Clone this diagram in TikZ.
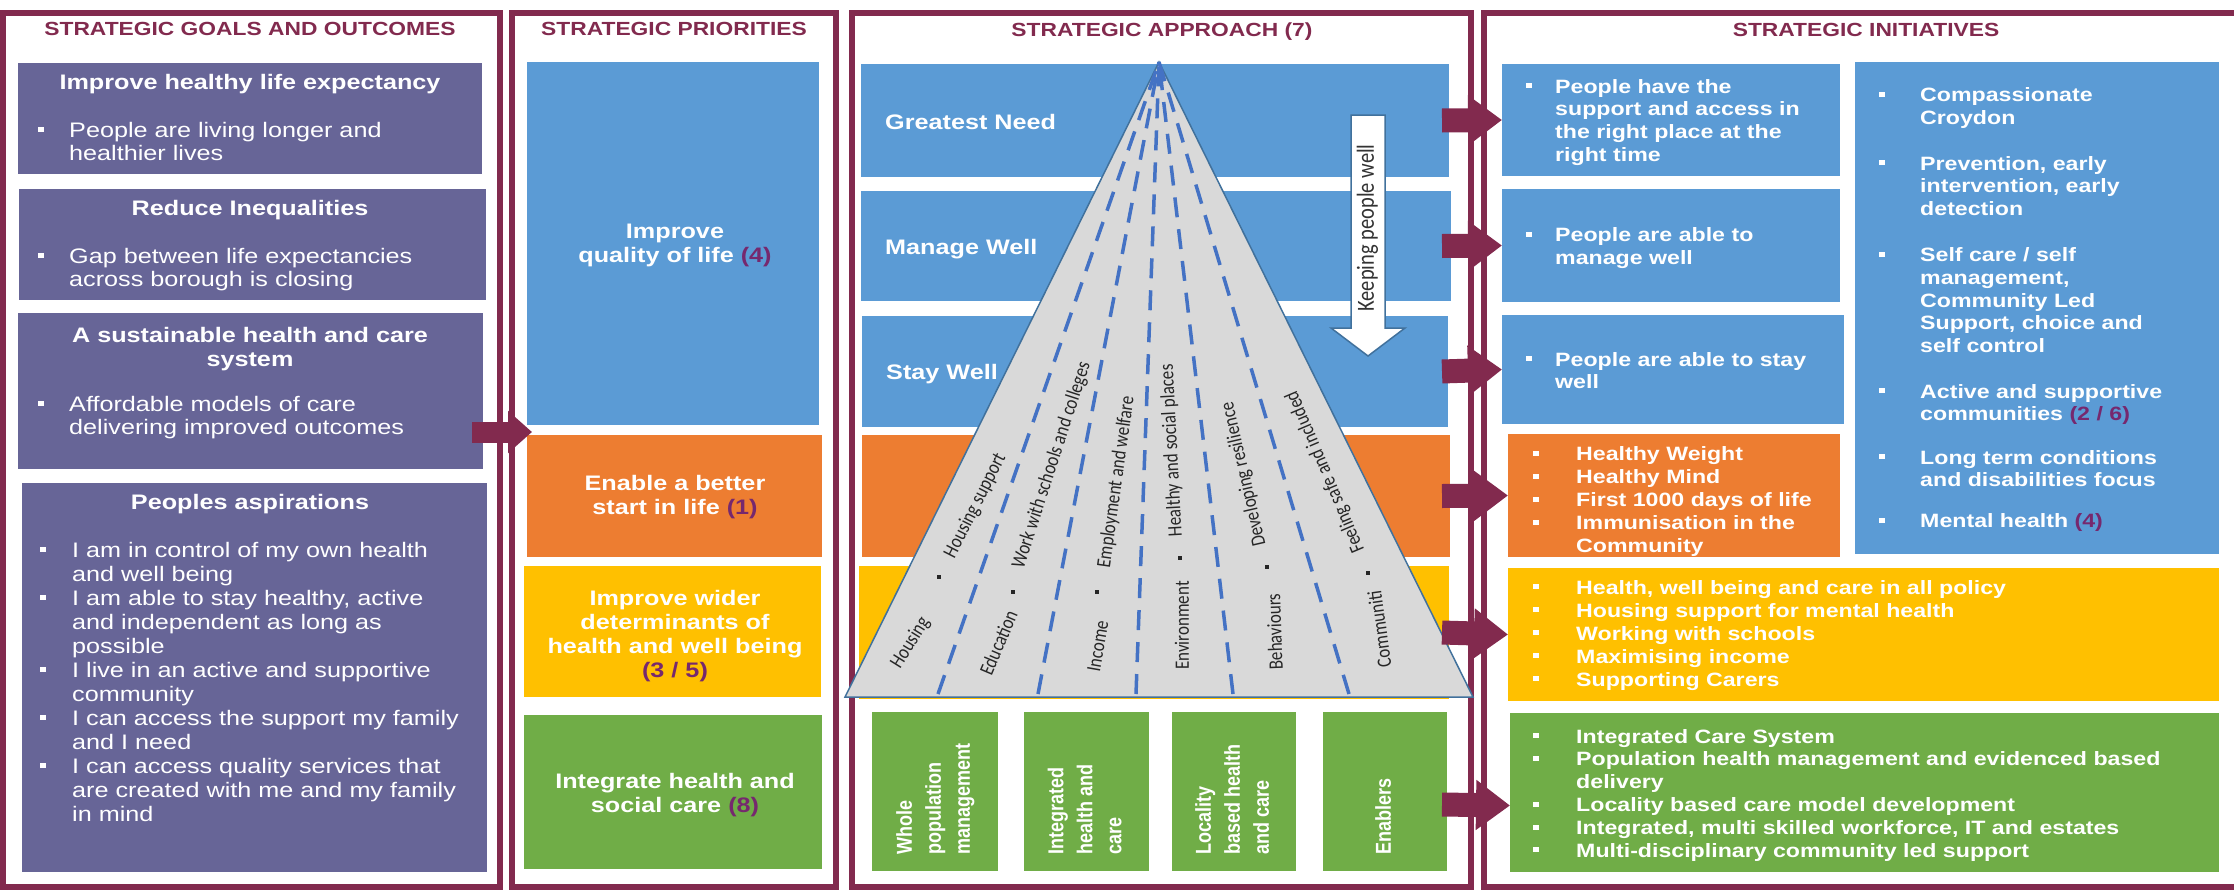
\documentclass[tikz,border=0pt]{standalone}
\usepackage{graphicx}
\usepackage{fontspec}
\setmainfont{Liberation Sans}[FakeStretch=1.2]
\newfontfamily\plainfont{Liberation Sans}
\newfontfamily\calfont{Carlito}
\usetikzlibrary{arrows.meta,positioning}

\definecolor{framec}{RGB}{130,42,78}
\definecolor{goalc}{RGB}{103,101,151}
\definecolor{bluec}{RGB}{91,155,213}
\definecolor{orangec}{RGB}{237,125,49}
\definecolor{yellowc}{RGB}{255,192,0}
\definecolor{greenc}{RGB}{112,173,71}
\definecolor{numc}{RGB}{118,40,110}
\definecolor{pyrfill}{RGB}{217,217,217}
\definecolor{pyrline}{RGB}{65,113,156}
\definecolor{dashc}{RGB}{68,114,196}

\newlength\bulw
\newcommand\sqb{\raisebox{0.25em}{\rule{0.28em}{0.26em}}}
\newcommand\bl{\makebox[\bulw][l]{\sqb}}
\newcommand\cl{\hspace*{\bulw}}
\newcommand\num[1]{{\color{numc}#1}}
% taller glyphs for the turned labels
\newcommand\tall[1]{\scalebox{1}[1.2]{\begin{tabular}{@{}l@{}}#1\end{tabular}}}

\begin{document}
\begin{tikzpicture}[x=1pt,y=-1pt,
    frm/.style={draw=framec, line width=6pt},
    panel/.style 2 args={anchor=north west, inner sep=0pt, outer sep=0pt, minimum width=#1pt, minimum height=#2pt},
    title/.style={anchor=base, text=framec, font=\bfseries\fontsize{19}{22}\selectfont},
    head/.style={anchor=base, text=white, font=\bfseries\fontsize{21}{24}\selectfont},
    goaltxt/.style={anchor=north west, inner sep=0pt, align=left, text=white, font=\fontsize{21}{23.5}\selectfont\setlength\bulw{31pt}},
    prio/.style={anchor=north, inner sep=0pt, align=center, text=white, font=\bfseries\fontsize{21}{24}\selectfont},
    band/.style={anchor=base west, inner sep=0pt, text=white, font=\bfseries\fontsize{21}{24}\selectfont},
    rot/.style={rotate=90, anchor=west, inner sep=0pt, text=white, font=\plainfont\bfseries\fontsize{18}{24.2}\selectfont},
    pyr/.style={anchor=west, inner sep=0pt, text=black!85, font=\calfont\fontsize{17}{20}\selectfont},
    dot/.style={fill=black!85, minimum size=4.5pt, inner sep=0pt},
    dashln/.style={draw=dashc, line width=3.5pt, dash pattern=on 20pt off 12pt},
    init/.style={anchor=north west, inner sep=0pt, align=left, text=white, font=\bfseries\fontsize{19.3}{22.7}\selectfont\setlength\bulw{29pt}},
    initD/.style={init, font=\bfseries\fontsize{19.3}{22.7}\selectfont\setlength\bulw{41pt}},
    initL/.style={init, font=\bfseries\fontsize{19.3}{23}\selectfont\setlength\bulw{43pt}},
    bigarrow/.style={draw=framec, line width=24pt, -{Triangle[length=34pt,width=48pt]}},
    smallarrow/.style={draw=framec, line width=21pt, -{Triangle[length=24pt,width=41pt]}}]

\useasboundingbox (0,0) rectangle (2234,891);

% column frames
\draw[frm] (3,13) rectangle (500,887);
\draw[frm] (512,13) rectangle (836,887);
\draw[frm] (852,13) rectangle (1471,887);
\draw[frm] (2240,13) -- (1483.5,13) -- (1483.5,887) -- (2240,887);

\node[title] (t1) at (250,35.5) {STRATEGIC GOALS AND OUTCOMES};
\node[title] (t2) at (674,36) {STRATEGIC PRIORITIES};
\node[title] (t3) at (1162,36.5) {STRATEGIC APPROACH (7)};
\node[title] (t4) at (1866,36.5) {STRATEGIC INITIATIVES};

% goals and outcomes
\node[panel={464}{111}, fill=goalc] (g1) at (18,63) {};
\node[panel={467}{111}, fill=goalc] (g2) at (19,189) {};
\node[panel={465}{156}, fill=goalc] (g3) at (18,313) {};
\node[panel={465}{389}, fill=goalc] (g4) at (22,483) {};

\node[head] (h1) at (250,89) {Improve healthy life expectancy};
\node[goaltxt] (s1) at (38,122) {\bl People are living longer and\\\cl healthier lives};
\node[head] (h2) at (250,215) {Reduce Inequalities};
\node[goaltxt] (s2) at (38,248) {\bl Gap between life expectancies\\\cl across borough is closing};
\node[head, anchor=north, align=center] (h3) at (250,324) {A sustainable health and care\\system};
\node[goaltxt] (s3) at (38,396) {\bl Affordable models of care\\\cl delivering improved outcomes};
\node[head] (h4) at (250,509) {Peoples aspirations};
\node[goaltxt, font=\fontsize{21}{24}\selectfont\setlength\bulw{32pt}] (s4) at (40,542)
  {\bl I am in control of my own health\\\cl and well being\\
   \bl I am able to stay healthy, active\\\cl and independent as long as\\\cl possible\\
   \bl I live in an active and supportive\\\cl community\\
   \bl I can access the support my family\\\cl and I need\\
   \bl I can access quality services that\\\cl are created with me and my family\\\cl in mind};

% priorities
\node[panel={292}{363}, fill=bluec] (p1) at (527,62) {};
\node[panel={295}{122}, fill=orangec] (p2) at (527,435) {};
\node[panel={297}{131}, fill=yellowc] (p3) at (524,566) {};
\node[panel={298}{154}, fill=greenc] (p4) at (524,715) {};

\node[prio] (q1) at (675,224) {Improve\\quality of life \num{(4)}};
\node[prio] (q2) at (675,475) {Enable a better\\start in life \num{(1)}};
\node[prio] (q3) at (675,590) {Improve wider\\determinants of\\health and well being\\\num{(3 / 5)}};
\node[prio] (q4) at (675,773) {Integrate health and\\social care \num{(8)}};

% approach
\node[panel={588}{113}, fill=bluec] (a1) at (861,64) {};
\node[panel={590}{110}, fill=bluec] (a2) at (861,191) {};
\node[panel={586}{111}, fill=bluec] (a3) at (862,316) {};
\node[panel={588}{122}, fill=orangec] (a4) at (862,435) {};
\node[panel={590}{133}, fill=yellowc] (a5) at (859,566) {};
\node[panel={126}{159}, fill=greenc] (b1) at (872,712) {};
\node[panel={125}{159}, fill=greenc] (b2) at (1024,712) {};
\node[panel={124}{159}, fill=greenc] (b3) at (1172,712) {};
\node[panel={124}{159}, fill=greenc] (b4) at (1323,712) {};

\node[band] (n1) at (885,129) {Greatest Need};
\node[band] (n2) at (885,254) {Manage Well};
\node[band] (n3) at (886,379) {Stay Well};

\node[rot] (w1) at ([yshift=16pt]b1.south) {\tall{Whole\\population\\management}};
\node[rot] (w2) at ([yshift=16pt]b2.south) {\tall{Integrated\\health and\\care}};
\node[rot] (w3) at ([yshift=16pt]b3.south) {\tall{Locality\\based health\\and care}};
\node[rot] (w4) at ([yshift=16pt]b4.south) {\tall{Enablers}};

\coordinate (apex) at (1159,62);
\coordinate (pl) at (845,697);
\coordinate (pr) at (1473,697);
\filldraw[fill=pyrfill, draw=pyrline, line width=1.5pt] (apex) -- (pl) -- (pr) -- cycle;
\foreach \bx in {938,1038,1136,1233,1349}
  \draw[dashln] (\bx,694) -- (apex);

\node[pyr, rotate=58] (c1) at (896,667) {\tall{Housing}};
\node[dot] (d1) at (939,577) {};
\node[pyr, rotate=63] (e1) at (950,557) {\tall{Housing support}};
\node[pyr, rotate=67] (c2) at (987,675) {\tall{Education}};
\node[dot] (d2) at (1013,592) {};
\node[pyr, rotate=72] (e2) at (1019,568) {\tall{Work with schools and colleges}};
\node[pyr, rotate=80] (c3) at (1095,672) {\tall{Income}};
\node[dot] (d3) at (1097,592) {};
\node[pyr, rotate=82] (e3) at (1105,568) {\tall{Employment and welfare}};
\node[pyr, rotate=90] (c4) at (1184,670) {\tall{Environment}};
\node[dot] (d4) at (1180,558) {};
\node[pyr, rotate=93] (e4) at (1177,537) {\tall{Healthy and social places}};
\node[pyr, rotate=92] (c5) at (1278,670) {\tall{Behaviours}};
\node[dot] (d5) at (1267,567) {};
\node[pyr, rotate=103] (e5) at (1261,546) {\tall{Developing resilience}};
\node[pyr, rotate=98] (c6) at (1387,667) {\tall{Communiti}};
\node[dot] (d6) at (1368,573) {};
\node[pyr, rotate=113] (e6) at (1360,552) {\tall{Feeling safe and included}};

\filldraw[fill=white, draw=pyrline, line width=1.5pt] (1351,115) -- (1385,115) -- (1385,328) -- (1405,328)
  -- (1368,356) -- (1331,328) -- (1351,328) -- cycle;
\node[rotate=90, inner sep=0pt, text=black!80, font=\calfont\fontsize{20.5}{24}\selectfont] (kpw) at (1368,228) {\tall{Keeping people well}};

% initiatives
\node[panel={338}{112}, fill=bluec] (iA) at (1502,64) {};
\node[panel={338}{113}, fill=bluec] (iB) at (1502,189) {};
\node[panel={342}{109}, fill=bluec] (iC) at (1502,315) {};
\node[panel={364}{492}, fill=bluec] (iD) at (1855,62) {};
\node[panel={332}{123}, fill=orangec] (iO) at (1508,434) {};
\node[panel={711}{133}, fill=yellowc] (iY) at (1508,568) {};
\node[panel={709}{159}, fill=greenc] (iG) at (1510,713) {};

\node[init] (rA) at (1526,79) {\bl People have the\\\cl support and access in\\\cl the right place at the\\\cl right time};
\node[init] (rB) at (1526,227.7) {\bl People are able to\\\cl manage well};
\node[init] (rC) at (1526,352) {\bl People are able to stay\\\cl well};
\node[initD] (rD1) at (1879,87.7) {\bl Compassionate\\\cl Croydon};
\node[initD] (rD2) at (1879,156) {\bl Prevention, early\\\cl intervention, early\\\cl detection};
\node[initD] (rD3) at (1879,247.7) {\bl Self care / self\\\cl management,\\\cl Community Led\\\cl Support, choice and\\\cl self control};
\node[initD] (rD4) at (1879,384) {\bl Active and supportive\\\cl communities \num{(2 / 6)}};
\node[initD] (rD5) at (1879,450) {\bl Long term conditions\\\cl and disabilities focus};
\node[initD] (rD6) at (1879,513.7) {\bl Mental health \num{(4)}};
\node[initL] (rO) at (1533,446.7) {\bl Healthy Weight\\\bl Healthy Mind\\\bl First 1000 days of life\\\bl Immunisation in the\\\cl Community};
\node[initL] (rY) at (1533,580) {\bl Health, well being and care in all policy\\\bl Housing support for mental health\\\bl Working with schools\\\bl Maximising income\\\bl Supporting Carers};
\node[initL, font=\bfseries\fontsize{19.3}{22.8}\selectfont\setlength\bulw{43pt}] (rG) at (1533,729)
  {\bl Integrated Care System\\\bl Population health management and evidenced based\\\cl delivery\\
   \bl Locality based care model development\\\bl Integrated, multi skilled workforce, IT and estates\\
   \bl Multi-disciplinary community led support};

% arrows
\coordinate (gout) at (472,432);
\coordinate (pin) at (532,432);
\draw[smallarrow] (gout) -- (pin);
\draw[bigarrow] ([xshift=-7pt]a1.east) -- (iA.west);
\draw[bigarrow] ([xshift=-9pt]a2.east) -- (iB.west);
\draw[bigarrow] ([xshift=-6pt]a3.east) -- (iC.west);
\draw[bigarrow] ([xshift=-8pt]a4.east) -- (iO.west);
\draw[bigarrow] ([xshift=-7pt]a5.east) -- (iY.west);
\draw[bigarrow] ([xshift=-5pt,yshift=-13pt]b4.east) -- ([yshift=-13pt]iG.west);

\end{tikzpicture}
\end{document}
